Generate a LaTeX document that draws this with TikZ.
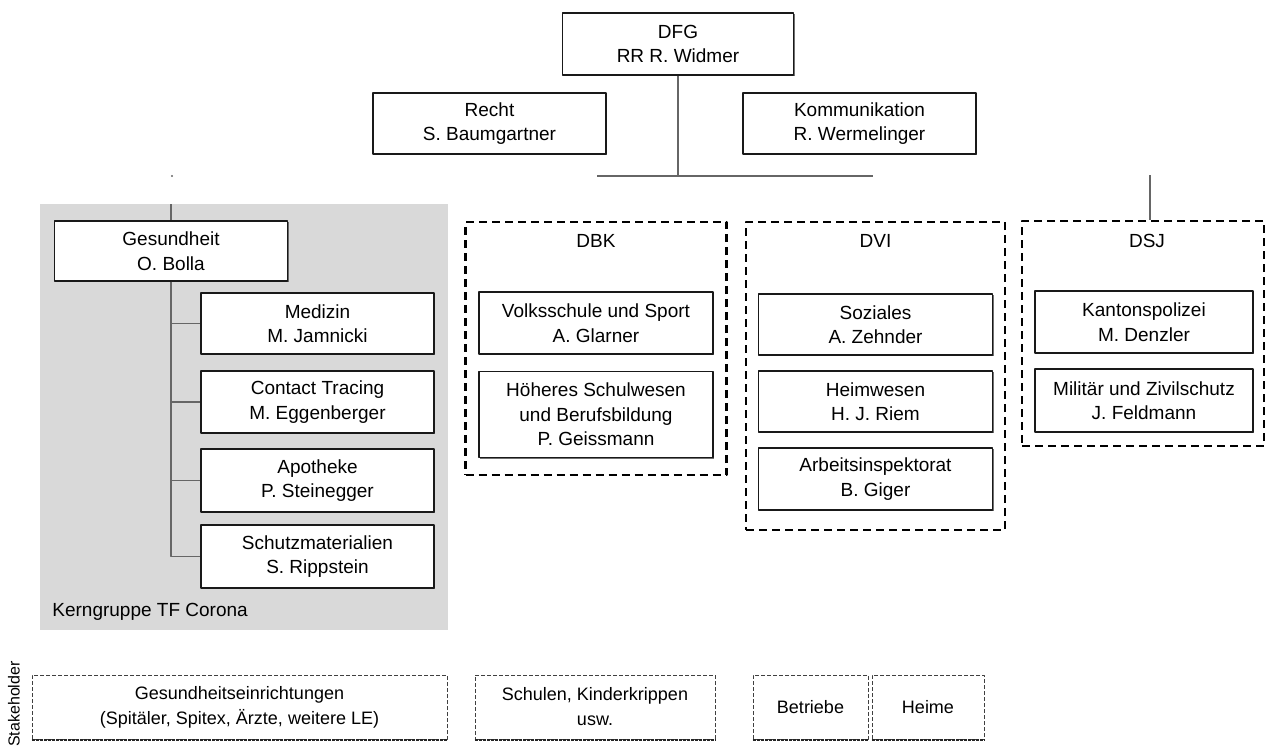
\documentclass[tikz,border=0pt]{standalone}
\usepackage{fontspec}
\setmainfont{Liberation Sans}
\usetikzlibrary{shadows}
\tikzset{
	sz/.style 2 args={minimum width=#1*0.5pt,minimum height=#2*0.5pt},
	box/.style={draw=black!90,line width=0.8pt,fill=white,align=center,inner sep=0pt,
		drop shadow={shadow xshift=0.5pt,shadow yshift=-0.5pt,fill=black!70,opacity=0.8}},
	grp/.style={draw=black,line width=1.2pt,dash pattern=on 4pt off 2.5pt,inner sep=0pt},
	holder/.style={draw=black!75,line width=0.5pt,dash pattern=on 2pt off 1pt,align=center,inner sep=0pt,
		font=\fontsize{9}{12.5}\selectfont},
	link/.style={draw=black!60,line width=0.9pt}
}
\begin{document}
\begin{tikzpicture}[x=0.5pt,y=-0.5pt,line join=round,font=\fontsize{9.5}{12.25}\selectfont]
			\useasboundingbox (0,0) rectangle (1266,751);
			% top level
			\node[box,sz={231}{62}] (dfg) at (678,44) {DFG\\RR R. Widmer};
			\node[box,sz={233}{61}] (recht) at (489.5,123.5) {Recht\\S. Baumgartner};
			\node[box,sz={233}{61}] (komm) at (859.5,123.5) {Kommunikation\\R. Wermelinger};
			\coordinate (busl) at (597,176);
			\coordinate (busr) at (873,176);
			\draw[link] (dfg.south) -- (dfg.south|-busl);
			\draw[link] (busl) -- (busr);
			\fill[black!60] (172,176) circle (0.6pt);
			% Kerngruppe
			\fill[black!15] (40,204) rectangle (448,630);
			\node[box,sz={233}{60}] (ges) at (171,251) {Gesundheit\\O. Bolla};
			\node[box,sz={233}{61}] (med) at (317.5,323.5) {Medizin\\M. Jamnicki};
			\node[box,sz={233}{62}] (ct) at (317.5,402) {Contact Tracing\\M. Eggenberger};
			\node[box,sz={233}{63}] (apo) at (317.5,480.5) {Apotheke\\P. Steinegger};
			\node[box,sz={233}{63}] (sch) at (317.5,556.5) {Schutzmaterialien\\S. Rippstein};
			\node[anchor=west,inner sep=0pt] (kern) at (52,612) {Kerngruppe TF Corona};
			\coordinate (gestop) at (171,204);
			\draw[link] (gestop) -- (ges.north);
			\foreach \n in {med,ct,apo,sch}
				\draw[link] (ges.south) |- (\n.west);
			% DBK
			\node[grp,sz={261}{253}] (dbk) at (596,348.5) {};
			\node (dbkt) at (596,241) {DBK};
			\node[box,sz={234}{62}] (volk) at (596,323) {Volksschule und Sport\\A. Glarner};
			\node[box,sz={234}{86}] (hoeh) at (596,414.5) {Höheres Schulwesen\\und Berufsbildung\\P. Geissmann};
			% DVI
			\node[grp,sz={259}{308}] (dvi) at (875.5,376) {};
			\node (dvit) at (875.5,241) {DVI};
			\node[box,sz={234}{61}] (soz) at (875.5,324.5) {Soziales\\A. Zehnder};
			\node[box,sz={234}{61}] (heim) at (875.5,401.5) {Heimwesen\\H. J. Riem};
			\node[box,sz={234}{62}] (arb) at (875.5,479) {Arbeitsinspektorat\\B. Giger};
			% DSJ
			\node[grp,sz={242}{225}] (dsj) at (1143,333.5) {};
			\node (dsjt) at (1147,241) {DSJ};
			\node[box,sz={218}{62}] (kapo) at (1144,322) {Kantonspolizei\\M. Denzler};
			\node[box,sz={218}{63}] (mil) at (1144,400.5) {Militär und Zivilschutz\\J. Feldmann};
			\coordinate (dsjtop) at (1150,175);
			\draw[link] (dsjtop) -- (dsjtop|-dsj.north);
			% Stakeholder
			\node[rotate=90,inner sep=0pt,font=\fontsize{8}{9}\selectfont] (stake) at (14,704) {Stakeholder};
			\node[holder,sz={415}{64}] (gesein) at (239.5,707) {Gesundheitseinrichtungen\\(Spitäler, Spitex, Ärzte, weitere LE)};
			\node[holder,sz={240}{64}] (schul) at (595,707) {Schulen, Kinderkrippen\\usw.};
			\node[holder,sz={115}{64}] (betr) at (810.5,707) {Betriebe};
			\node[holder,sz={112}{64}] (heime) at (928,707) {Heime};
			\foreach \n in {gesein,schul,betr,heime}
				\draw[black!85,line width=1pt,dash pattern=on 1.5pt off 0.5pt] (\n.south west) -- (\n.south east);
		\end{tikzpicture}
\end{document}
